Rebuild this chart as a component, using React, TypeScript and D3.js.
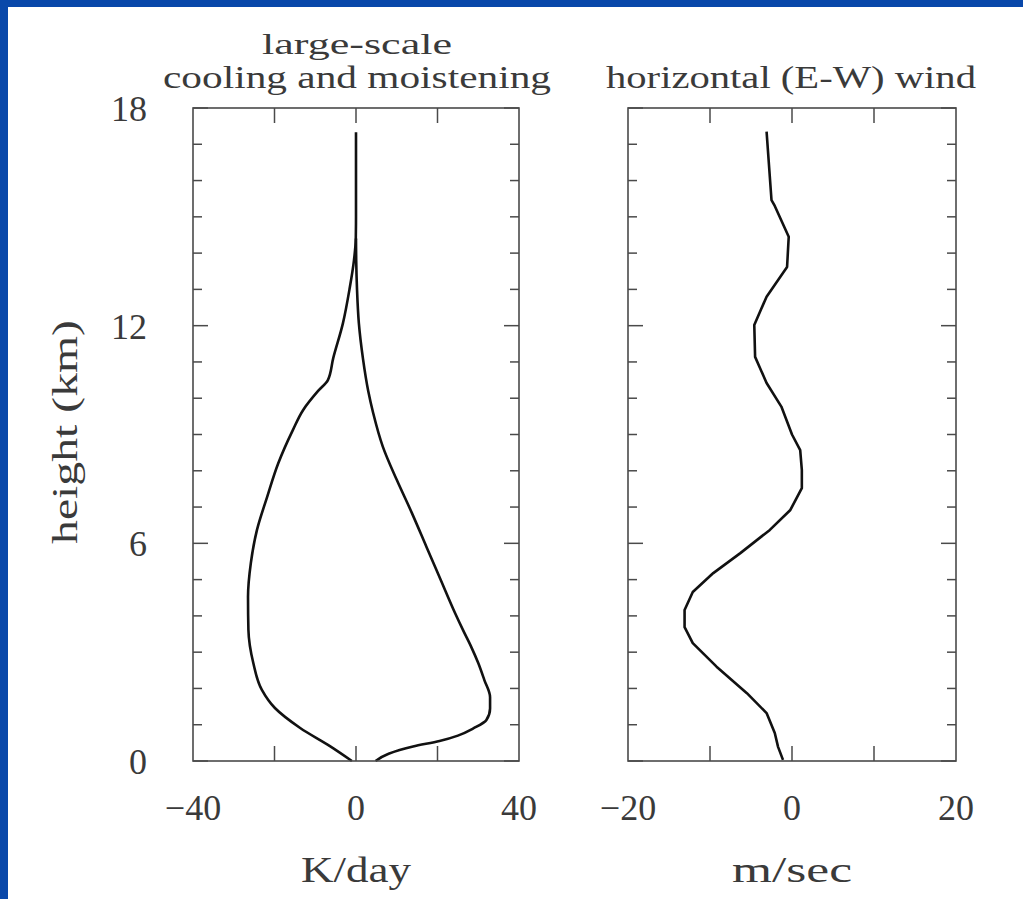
import React from "react";
import * as d3 from "d3";

// large-scale cooling (left branch) and moistening (right branch), K/day vs height (km)
const coolingHeight = [0, 0.41, 0.91, 1.46, 1.96, 2.7, 3.61, 4.52, 5.46, 6.37, 7.28, 8.2, 9.12, 9.67, 10.2, 10.5, 11.1, 12.07, 13, 13.8, 14.4, 15, 16, 17.33];
const coolingRate = [-1, -6.4, -13.7, -19.9, -23.1, -25.2, -26.4, -26.5, -25.8, -24.3, -21.8, -19.1, -15.5, -13, -9.3, -6.9, -5.6, -3.2, -1.6, -0.5, -0.05, 0, 0, 0];

const moisteningHeight = [0, 0.2, 0.4, 0.55, 0.7, 0.9, 1.13, 1.45, 1.76, 2.23, 2.7, 3.14, 3.6, 4.08, 4.99, 5.9, 6.84, 7.75, 8.66, 9.6, 10.2, 11.1, 12.07, 13, 13.8, 14.4];
const moisteningRate = [4.8, 8, 14, 20.5, 25, 28.8, 32, 32.9, 32.9, 31.5, 30, 28.3, 26.3, 24.3, 20.8, 17.3, 13.7, 10, 6.6, 4.2, 3, 1.7, 0.7, 0.25, 0.05, 0];

// horizontal (E-W) wind, m/sec vs height (km)
const windHeight = [0.03, 0.39, 0.77, 1.32, 1.87, 2.6, 3.25, 3.69, 4.16, 4.66, 5.18, 5.73, 6.37, 6.92, 7.52, 8.02, 8.57, 9.0, 9.77, 10.42, 11.14, 12.02, 12.8, 13.62, 14.45, 15.3, 15.46, 17.35];
const windSpeed = [-1.1, -1.7, -2.1, -3.1, -5.5, -9.2, -12.1, -13.1, -13.1, -12.1, -9.6, -6.3, -2.7, -0.2, 1.2, 1.2, 1.0, 0.0, -1.3, -3.1, -4.5, -4.6, -3.1, -0.6, -0.4, -2.1, -2.5, -3.1];

const heightLabels = [0, 6, 12, 18];
const heightMajor = [0, 6, 12, 18];
const coolingTicks = [-20, 0, 20];
const coolingLabels = [-40, 0, 40];
const windTicks = [-10, 0, 10];
const windLabels = [-20, 0, 20];

const FONT = "'Liberation Serif', 'DejaVu Serif', serif";
const AXIS = "#4a4a4a";
const TEXT = "#3a3a3a";

const fmt = (v: number) => (v < 0 ? "\u2212" + Math.abs(v) : String(v));

function Panel({
  x0, x1, domain, ticks, labels, xs, ys, curve, showY, unit, unitLen,
}: {
  x0: number; x1: number; domain: [number, number]; ticks: number[]; labels: number[];
  xs: { h: number[]; v: number[] }[]; ys: d3.ScaleLinear<number, number>;
  curve: d3.CurveFactory; showY: boolean; unit: string; unitLen: number;
}) {
  const x = d3.scaleLinear().domain(domain).range([x0, x1]);
  const [yb, yt] = ys.range();
  const line = d3.line<[number, number]>().x(d => x(d[0])).y(d => ys(d[1])).curve(curve);
  const minor = ys.ticks(18);
  const cx = (x0 + x1) / 2;
  return (
    <g>
      {xs.map((s, i) => (
        <path key={i} d={line(s.v.map((v, j) => [v, s.h[j]] as [number, number])) || ""}
          fill="none" stroke="#111" strokeWidth={2.6} strokeLinejoin="round" />
      ))}
      <rect x={x0} y={yt} width={x1 - x0} height={yb - yt} fill="none" stroke={AXIS} strokeWidth={1.6} />
      {minor.map(t => {
        const len = heightMajor.includes(t) ? 15 : 9;
        return (
          <g key={"y" + t}>
            <line x1={x0} x2={x0 + len} y1={ys(t)} y2={ys(t)} stroke={AXIS} strokeWidth={1.5} />
            <line x1={x1} x2={x1 - len} y1={ys(t)} y2={ys(t)} stroke={AXIS} strokeWidth={1.5} />
          </g>
        );
      })}
      {ticks.map(t => (
        <g key={"x" + t}>
          <line x1={x(t)} x2={x(t)} y1={yt} y2={yt + 15} stroke={AXIS} strokeWidth={1.5} />
          <line x1={x(t)} x2={x(t)} y1={yb} y2={yb - 15} stroke={AXIS} strokeWidth={1.5} />
        </g>
      ))}
      {labels.map(t => (
        <text key={"l" + t} x={x(t)} y={820} textAnchor="middle" fontFamily={FONT} fontSize={36} fill={TEXT}>
          {fmt(t)}
        </text>
      ))}
      {showY && heightLabels.map(t => (
        <text key={"h" + t} x={147} y={ys(t) + 13} textAnchor="end" fontFamily={FONT} fontSize={36} fill={TEXT}>
          {t}
        </text>
      ))}
      <text x={cx} y={882} textAnchor="middle" fontFamily={FONT} fontSize={35} fill={TEXT}
        textLength={unitLen} lengthAdjust="spacingAndGlyphs">{unit}</text>
    </g>
  );
}

export default function App() {
  const y = d3.scaleLinear().domain([0, 18]).range([761, 108]);
  return (
    <svg width={1023} height={899} style={{ position: "absolute", left: 0, top: 0, display: "block" }}>
      <rect x={0} y={0} width={1023} height={899} fill="#fff" />
      <rect x={0} y={0} width={1023} height={7} fill="#0948aa" />
      <rect x={0} y={0} width={8} height={899} fill="#0948aa" />

      <text x={357} y={54} textAnchor="middle" fontFamily={FONT} fontSize={30} fill={TEXT}
        textLength={190} lengthAdjust="spacingAndGlyphs">large-scale</text>
      <text x={357} y={88} textAnchor="middle" fontFamily={FONT} fontSize={31} fill={TEXT}
        textLength={388} lengthAdjust="spacingAndGlyphs">cooling and moistening</text>
      <text x={791} y={88} textAnchor="middle" fontFamily={FONT} fontSize={31} fill={TEXT}
        textLength={370} lengthAdjust="spacingAndGlyphs">horizontal (E-W) wind</text>

      <text transform="translate(77,432) rotate(-90)" textAnchor="middle" fontFamily={FONT} fontSize={35}
        fill={TEXT} textLength={224} lengthAdjust="spacingAndGlyphs">height (km)</text>

      <Panel x0={193} x1={519} domain={[-40, 40]} ticks={coolingTicks} labels={coolingLabels}
        xs={[{ h: coolingHeight, v: coolingRate }, { h: moisteningHeight, v: moisteningRate }]}
        ys={y} curve={d3.curveMonotoneY} showY unit="K/day" unitLen={110} />
      <Panel x0={628} x1={956} domain={[-20, 20]} ticks={windTicks} labels={windLabels}
        xs={[{ h: windHeight, v: windSpeed }]}
        ys={y} curve={d3.curveLinear} showY={false} unit="m/sec" unitLen={120} />
    </svg>
  );
}
